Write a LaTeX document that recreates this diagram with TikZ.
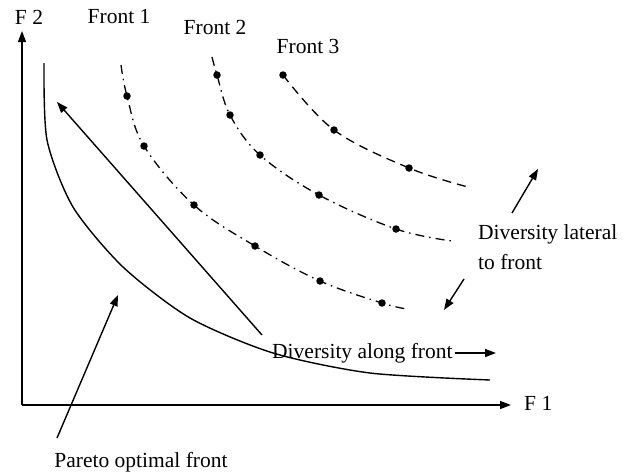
\documentclass[tikz,border=0pt]{standalone}
\usepackage{fontspec}
\setmainfont{Liberation Serif}
\usepackage{tikz}
\usetikzlibrary{arrows.meta, positioning, calc}

\begin{document}
\begin{tikzpicture}[x=1pt,y=-1pt,>={Triangle[length=11pt,width=8pt]},
label/.style={inner sep=0pt,font=\fontsize{21.5}{30}\selectfont},
axis/.style={->,line width=1.5pt},
pointer/.style={->,line width=1.4pt},
pareto/.style={line width=1.4pt},
front1/.style={line width=1.3pt,dash pattern=on 9pt off 5pt on 1.5pt off 5pt},
front3/.style={line width=1.3pt,dash pattern=on 9pt off 6pt},
sample/.style={circle,fill,inner sep=0pt,minimum size=7.5pt}]
\useasboundingbox (0,0) rectangle (634,475);
% axes
\coordinate (O) at (22,405);
\coordinate (ytip) at (22,31);
\coordinate (xtip) at (511,405);
\draw[axis] (O)--(ytip);
\draw[axis] (O)--(xtip);
\node[label] (F2) at (29,17) {F 2};
\node[label,anchor=west] (F1) at (524,403) {F 1};
% pareto optimal front
\draw[pareto] plot[smooth,tension=0.45] coordinates {(44,63) (47,140) (73,207) (123,267) (190,318) (273,353) (370,373) (490,380)};
% fronts
\draw[front1] plot[smooth,tension=0.6] coordinates {(121,65) (127,96) (144,146) (194,205) (255,246) (320,281) (382,303) (407,309)};
\draw[front1] plot[smooth,tension=0.6] coordinates {(212,57) (217,75) (230,115) (260,155) (319,195) (396,229) (452,241)};
\draw[front3] plot[smooth,tension=0.6] coordinates {(283,75) (334,130) (409,168) (468,187)};
\foreach \pt [count=\i] in {(127,96),(144,146),(194,205),(255,246),(320,281),(382,303)}
  \node[sample] (a\i) at \pt {};
\foreach \pt [count=\i] in {(217,75),(230,115),(260,155),(319,195),(396,229)}
  \node[sample] (b\i) at \pt {};
\foreach \pt [count=\i] in {(283,75),(334,130),(409,168)}
  \node[sample] (c\i) at \pt {};
\node[label] (front1) at (119,17) {Front 1};
\node[label] (front2) at (215,27) {Front 2};
\node[label] (front3) at (308,46) {Front 3};
% annotations
\coordinate (bigtail) at (262,335);
\coordinate (bighead) at (57,102);
\draw[pointer] (bigtail)--(bighead);
\node[label] (paretolbl) at (141,462) {Pareto optimal front};
\coordinate (ptail) at (57,438);
\coordinate (phead) at (118,295);
\draw[pointer] (ptail)--(phead);
\node[label,anchor=west] (along) at (272,353) {Diversity along front};
\coordinate (alonghead) at (496,353);
\draw[pointer] ([xshift=2pt]along.east)--(alonghead);
\node[label,anchor=west,align=left] (lateral) at (478,247) {Diversity lateral\\to front};
\coordinate (uptail) at (512,213);
\coordinate (uphead) at (538,169);
\draw[pointer] (uptail)--(uphead);
\coordinate (dntail) at (464,279);
\coordinate (dnhead) at (444,310);
\draw[pointer] (dntail)--(dnhead);
\end{tikzpicture}
\end{document}
